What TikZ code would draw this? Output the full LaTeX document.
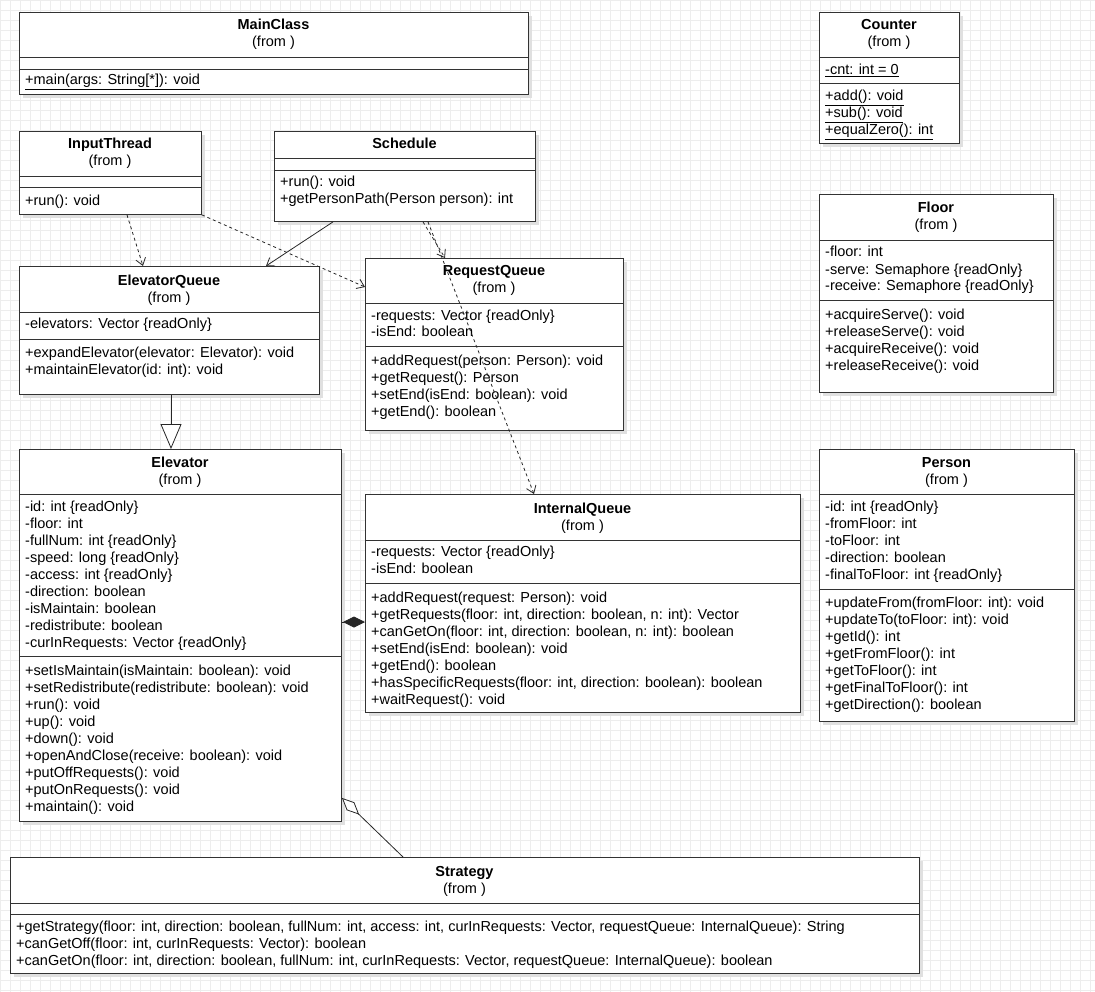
\documentclass[tikz,border=0pt]{standalone}
\usepackage{fontspec}
\setmainfont{Liberation Sans}
\usetikzlibrary{arrows.meta,calc,shadows}

\newcommand{\classsep}[2]{\draw[boxline] (#1.west |- 0,#2) -- (#1.east |- 0,#2);}

\begin{document}
\begin{tikzpicture}[x=1pt, y=-1pt,
  every node/.style={font=\fontsize{14.5}{17}\selectfont},
  classbox/.style={draw=black!80, line width=0.9pt, fill=white, anchor=north west, inner sep=0pt,
    drop shadow={shadow xshift=4pt, shadow yshift=-4pt, fill=black!12, opacity=1}},
  classname/.style={anchor=base, align=center, inner sep=0pt},
  members/.style={anchor=base west, align=left, inner sep=0pt},
  boxline/.style={draw=black!80, line width=0.9pt},
  depends/.style={draw=black!85, line width=0.8pt, dash pattern=on 3pt off 3pt,
    -{Straight Barb[length=7pt, width=10pt]}},
  assoc/.style={draw=black!85, line width=0.8pt, -{Straight Barb[length=7pt, width=10pt]}},
  inherit/.style={draw=black!85, line width=0.8pt, -{Triangle[open, length=25pt, width=21pt, fill=white]}},
  compose/.style={draw=black!85, line width=0.8pt, -{Diamond[length=22pt, width=11pt]}},
  aggregate/.style={draw=black!85, line width=0.8pt, -{Diamond[open, length=24pt, width=11pt, fill=white]}}]

  \useasboundingbox (0,0) rectangle (1095,992);
  \draw[step=10pt, black!7, line width=0.4pt] (0,0) grid (1095,992);

  % MainClass
  \node[classbox, minimum width=509pt, minimum height=82pt] (mainclass) at (19,12) {};
  \node[classname] at (273.5,47) {\textbf{MainClass}\\(from )};
  \classsep{mainclass}{57}
  \classsep{mainclass}{69}
  \node[members] at (25,85) {\underline{+main(args: String[*]): void}};

  % Counter
  \node[classbox, minimum width=140pt, minimum height=131pt] (counter) at (819,12) {};
  \node[classname] at (889,47) {\textbf{Counter}\\(from )};
  \classsep{counter}{57}
  \classsep{counter}{83}
  \node[members] at (825,75) {\underline{-cnt: int = 0}};
  \node[members] at (825,135) {\underline{+add(): void}\\\underline{+sub(): void}\\\underline{+equalZero(): int}};

  % InputThread
  \node[classbox, minimum width=182pt, minimum height=83pt] (inputthread) at (19,131) {};
  \node[classname] at (110,166) {\textbf{InputThread}\\(from )};
  \classsep{inputthread}{176}
  \classsep{inputthread}{187}
  \node[members] at (25,206) {+run(): void};

  % Schedule
  \node[classbox, minimum width=261pt, minimum height=90pt] (schedule) at (274,131) {};
  \node[classname] at (404.5,149) {\textbf{Schedule}};
  \classsep{schedule}{158}
  \classsep{schedule}{170}
  \node[members] at (280,204) {+run(): void\\+getPersonPath(Person person): int};

  % ElevatorQueue
  \node[classbox, minimum width=300pt, minimum height=128pt] (elevqueue) at (19,266) {};
  \node[classname] at (169,302) {\textbf{ElevatorQueue}\\(from )};
  \classsep{elevqueue}{312}
  \classsep{elevqueue}{339}
  \node[members] at (25,329) {-elevators: Vector \{readOnly\}};
  \node[members] at (25,374) {+expandElevator(elevator: Elevator): void\\+maintainElevator(id: int): void};

  % RequestQueue
  \node[classbox, minimum width=258pt, minimum height=172pt] (reqqueue) at (365,258) {};
  \node[classname] at (494,293) {\textbf{RequestQueue}\\(from )};
  \classsep{reqqueue}{303}
  \classsep{reqqueue}{346}
  \node[members] at (371,337) {-requests: Vector \{readOnly\}\\-isEnd: boolean};
  \node[members] at (371,416) {+addRequest(person: Person): void\\+getRequest(): Person\\+setEnd(isEnd: boolean): void\\+getEnd(): boolean};

  % Floor
  \node[classbox, minimum width=234pt, minimum height=198pt] (floor) at (819,194) {};
  \node[classname] at (936,230) {\textbf{Floor}\\(from )};
  \classsep{floor}{240}
  \classsep{floor}{300}
  \node[members] at (825,291) {-floor: int\\-serve: Semaphore \{readOnly\}\\-receive: Semaphore \{readOnly\}};
  \node[members] at (825,370) {+acquireServe(): void\\+releaseServe(): void\\+acquireReceive(): void\\+releaseReceive(): void};

  % Elevator
  \node[classbox, minimum width=322pt, minimum height=372pt] (elevator) at (19,449) {};
  \node[classname] at (180,484) {\textbf{Elevator}\\(from )};
  \classsep{elevator}{494}
  \classsep{elevator}{656}
  \node[members] at (25,647) {-id: int \{readOnly\}\\-floor: int\\-fullNum: int \{readOnly\}\\-speed: long \{readOnly\}\\-access: int \{readOnly\}\\-direction: boolean\\-isMaintain: boolean\\-redistribute: boolean\\-curInRequests: Vector \{readOnly\}};
  \node[members] at (25,811) {+setIsMaintain(isMaintain: boolean): void\\+setRedistribute(redistribute: boolean): void\\+run(): void\\+up(): void\\+down(): void\\+openAndClose(receive: boolean): void\\+putOffRequests(): void\\+putOnRequests(): void\\+maintain(): void};

  % InternalQueue
  \node[classbox, minimum width=435pt, minimum height=218pt] (intqueue) at (365,494) {};
  \node[classname] at (582.5,530) {\textbf{InternalQueue}\\(from )};
  \classsep{intqueue}{540}
  \classsep{intqueue}{583}
  \node[members] at (371,573) {-requests: Vector \{readOnly\}\\-isEnd: boolean};
  \node[members] at (371,704) {+addRequest(request: Person): void\\+getRequests(floor: int, direction: boolean, n: int): Vector\\+canGetOn(floor: int, direction: boolean, n: int): boolean\\+setEnd(isEnd: boolean): void\\+getEnd(): boolean\\+hasSpecificRequests(floor: int, direction: boolean): boolean\\+waitRequest(): void};

  % Person
  \node[classbox, minimum width=255pt, minimum height=272pt] (person) at (819,449) {};
  \node[classname] at (946.5,484) {\textbf{Person}\\(from )};
  \classsep{person}{494}
  \classsep{person}{589}
  \node[members] at (825,579) {-id: int \{readOnly\}\\-fromFloor: int\\-toFloor: int\\-direction: boolean\\-finalToFloor: int \{readOnly\}};
  \node[members] at (825,709) {+updateFrom(fromFloor: int): void\\+updateTo(toFloor: int): void\\+getId(): int\\+getFromFloor(): int\\+getToFloor(): int\\+getFinalToFloor(): int\\+getDirection(): boolean};

  % Strategy
  \node[classbox, minimum width=909pt, minimum height=116pt] (strategy) at (10,857) {};
  \node[classname] at (464.5,893) {\textbf{Strategy}\\(from )};
  \classsep{strategy}{903}
  \classsep{strategy}{914}
  \node[members] at (16,965) {+getStrategy(floor: int, direction: boolean, fullNum: int, access: int, curInRequests: Vector, requestQueue: InternalQueue): String\\+canGetOff(floor: int, curInRequests: Vector): boolean\\+canGetOn(floor: int, direction: boolean, fullNum: int, curInRequests: Vector, requestQueue: InternalQueue): boolean};

  % relations
  \draw[depends] ($(inputthread.south west)+(108,0)$) -- ($(elevqueue.north west)+(124,0)$);
  \draw[depends] (inputthread.south east) -- ($(reqqueue.north west)+(0,29)$);
  \draw[assoc] ($(schedule.south west)+(59,0)$) -- ($(elevqueue.north west)+(247,0)$);
  \draw[depends] ($(schedule.south west)+(149,0)$) -- ($(reqqueue.north west)+(80,0)$);
  \draw[depends] ($(schedule.south west)+(154,0)$) -- ($(intqueue.north west)+(169,0)$);
  \draw[inherit] ($(elevqueue.south west)+(152,0)$) -- ($(elevator.north west)+(152,0)$);
  \draw[compose] ($(elevator.north east)+(0,173)$) -- ($(intqueue.north west)+(0,128)$);
  \draw[aggregate] ($(strategy.north west)+(393,0)$) -- ($(elevator.south east)+(0,-24)$);
\end{tikzpicture}
\end{document}
